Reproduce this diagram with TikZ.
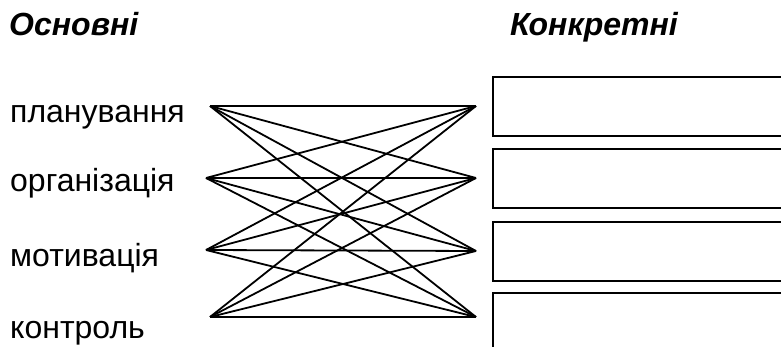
\documentclass[tikz,border=0pt]{standalone}
\usepackage{fontspec}
\setmainfont{Liberation Sans}

\begin{document}
\begin{tikzpicture}[x=1pt,y=-1pt,
    txt/.style={anchor=base west,inner sep=0pt,font=\fontsize{32}{38}\selectfont},
    head/.style={txt,font=\fontsize{32}{38}\selectfont\bfseries\itshape},
    cell/.style={draw,line width=2pt,anchor=north west,inner sep=0pt,
      minimum width=320pt,minimum height=59pt}]
      \clip (0,0) rectangle (781,347) ;
      % headings
      \node[head] (osn) at (9,36) {Основні} ;
      \node[head] (konk) at (510,36) {Конкретні} ;
      % functions on the left
      \node[txt] (l1) at (10,123) {планування} ;
      \node[txt] (l2) at (10,192) {організація} ;
      \node[txt] (l3) at (10,266) {мотивація} ;
      \node[txt] (l4) at (10,338) {контроль} ;
      % ends of the links
      \coordinate (a1) at (210,106) ; \coordinate (b1) at (476,106) ;
      \coordinate (a2) at (206,178) ; \coordinate (b2) at (476,178) ;
      \coordinate (a3) at (206,250) ; \coordinate (b3) at (476,251) ;
      \coordinate (a4) at (210,317) ; \coordinate (b4) at (476,317) ;
      \foreach \i in {1,...,4}
        \foreach \j in {1,...,4}
          \draw[line width=1.8pt] (a\i) -- (b\j) ;
      % empty boxes on the right
      \node[cell] (r1) at (492,76) {} ;
      \node[cell] (r2) at (492,148) {} ;
      \node[cell] (r3) at (492,221) {} ;
      \node[cell,minimum height=80pt] (r4) at (492,292) {} ;
    \end{tikzpicture}
\end{document}
